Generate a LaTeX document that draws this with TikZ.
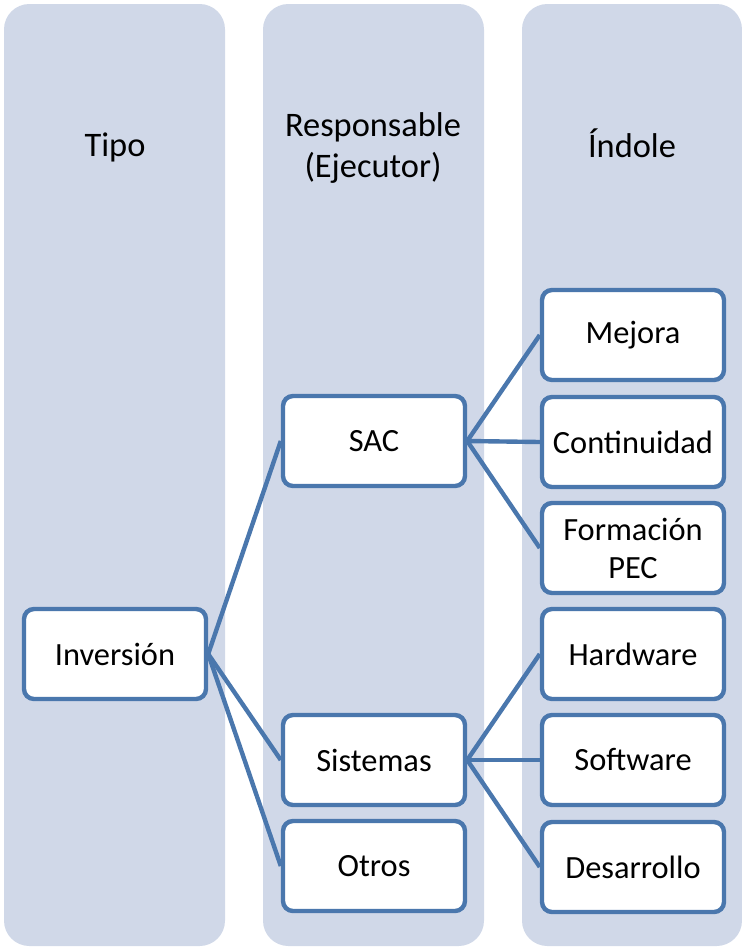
\documentclass[tikz,border=0pt]{standalone}
\usepackage{fontspec}
\setmainfont{Carlito}
\definecolor{colbg}{HTML}{D0D8E8}
\definecolor{boxline}{HTML}{4A77AD}
\begin{document}
\begin{tikzpicture}[x=0.75pt,y=-0.75pt,
    column/.style={fill=colbg,rounded corners=19pt},
    heading/.style={align=center,font=\fontsize{25.8}{31}\selectfont},
    item/.style={draw=boxline,line width=3.3pt,fill=white,rounded corners=7.5pt,
      minimum width=136.5pt,minimum height=67.5pt,align=center,inner sep=0pt,
      font=\fontsize{24.3}{28.5}\selectfont},
    link/.style={draw=boxline,line width=3.3pt}]
      \useasboundingbox (0,0) rectangle (742,947);
      % columns
      \fill[column] (4,4) rectangle (225,946);
      \fill[column] (263,4) rectangle (484,946);
      \fill[column] (522,4) rectangle (742,946);
      \node[heading] (tipo) at (115,147) {Tipo};
      \node[heading] (resp) at (373,148) {Responsable\\(Ejecutor)};
      \node[heading] (indole) at (632,143) {Índole};
      % boxes
      \node[item] (inv) at (115,654) {Inversión};
      \node[item] (sac) at (374,441) {SAC};
      \node[item] (sis) at (374,760) {Sistemas};
      \node[item] (otr) at (374,866) {Otros};
      \node[item] (mej) at (633,335) {Mejora};
      \node[item] (con) at (633,442) {Continuidad};
      \node[item] (for) at (633,548) {Formación\\PEC};
      \node[item] (har) at (633,654) {Hardware};
      \node[item] (sof) at (633,760) {Software};
      \node[item] (des) at (633,867) {Desarrollo};
      \begin{scope}[link]
        \draw (inv.east) to (sac.west);
        \draw (inv.east) to (sis.west);
        \draw (inv.east) to (otr.west);
        \draw (sac.east) to (mej.west);
        \draw (sac.east) to (con.west);
        \draw (sac.east) to (for.west);
        \draw (sis.east) to (har.west);
        \draw (sis.east) to (sof.west);
        \draw (sis.east) to (des.west);
      \end{scope}
    \end{tikzpicture}
\end{document}
